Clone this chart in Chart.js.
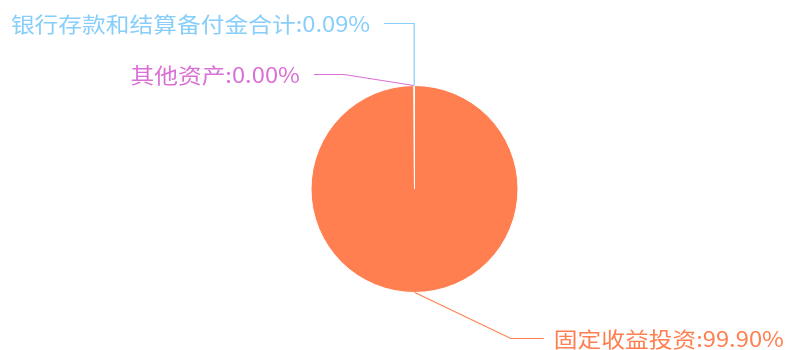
<!DOCTYPE html>
<html>
<head>
<meta charset="utf-8">
<script src="https://cdn.jsdelivr.net/npm/chart.js@4/dist/chart.umd.min.js"></script>
<style>
  html, body { margin: 0; padding: 0; background: #ffffff; }
  #wrap { width: 790px; height: 350px; position: relative; }
</style>
</head>
<body>
<div id="wrap"><canvas id="c" width="790" height="350"></canvas></div>
<script>
// ---- data ----
const categories = ['固定收益投资', '其他资产', '银行存款和结算备付金合计'];
const percentages = [99.90, 0.00, 0.09];
const sliceColors = ['#FF7F50', '#DA70D6', '#87CEFA'];

// label leader-line layout (elbow offset from the slice's edge point)
const labelLayout = [
  { dx: 96, dy: 46 },
  { dx: -70, dy: -11 },
  { dx: 0, dy: -62 }
];

const FONT = '21px "Noto Sans CJK SC", "Noto Sans", sans-serif';
const TEXT_SCALE_X = 1.13;

const labelPlugin = {
  id: 'pieLabels',
  afterDatasetsDraw(chart) {
    const ctx = chart.ctx;
    const meta = chart.getDatasetMeta(0);
    meta.data.forEach((arc, i) => {
      const p = arc.getProps(['x', 'y', 'startAngle', 'endAngle', 'outerRadius'], true);
      const mid = (p.startAngle + p.endAngle) / 2;
      const ax = p.x + p.outerRadius * Math.cos(mid);
      const ay = p.y + p.outerRadius * Math.sin(mid);
      const lay = labelLayout[i];
      const ex = ax + lay.dx;
      const ey = ay + lay.dy;
      const right = lay.dx > 0;
      const hx = ex + (right ? 33 : -30);
      const color = sliceColors[i];
      ctx.save();
      ctx.strokeStyle = color;
      ctx.lineWidth = 1.2;
      ctx.beginPath();
      ctx.moveTo(ax, ay);
      ctx.lineTo(ex, ey);
      ctx.lineTo(hx, ey);
      ctx.stroke();
      const text = categories[i] + ':' + percentages[i].toFixed(2) + '%';
      ctx.font = FONT;
      ctx.fillStyle = color;
      ctx.textBaseline = 'middle';
      const tx = hx + (right ? 10 : -14);
      ctx.translate(tx, ey);
      ctx.scale(TEXT_SCALE_X, 1);
      ctx.textAlign = right ? 'left' : 'right';
      ctx.fillText(text, 0, 1);
      ctx.restore();
    });
  }
};

new Chart(document.getElementById('c'), {
  type: 'pie',
  data: {
    labels: categories,
    datasets: [{
      data: percentages,
      backgroundColor: sliceColors,
      borderColor: '#ffffff',
      borderWidth: 1
    }]
  },
  options: {
    responsive: false,
    animation: false,
    layout: { padding: { top: 85, bottom: 57, left: 310, right: 271 } },
    plugins: {
      legend: { display: false },
      tooltip: { enabled: false }
    }
  },
  plugins: [labelPlugin]
});
</script>
</body>
</html>
